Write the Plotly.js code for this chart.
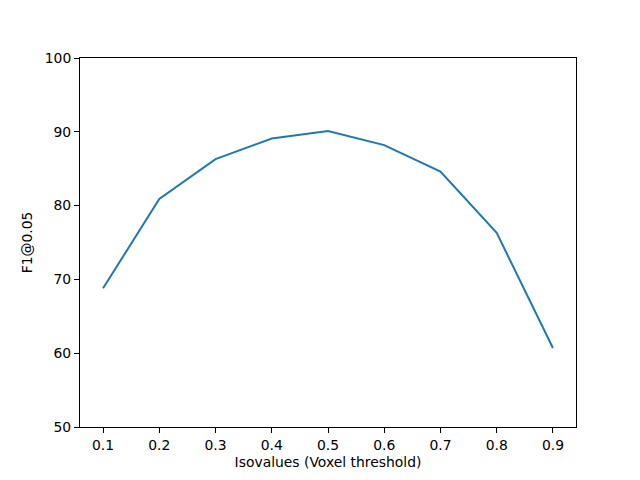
<!DOCTYPE html>
<html>
<head>
<meta charset="utf-8">
<script src="https://cdn.plot.ly/plotly-3.0.1.min.js"></script>
<style>
  html, body { margin: 0; padding: 0; background: #fff; }
  #myDiv { width: 640px; height: 480px; }
</style>
</head>
<body>
<div id="myDiv"></div>
<script>
// isovalue thresholds and the F1 score
var isovalues = [0.1, 0.2, 0.3, 0.4, 0.5, 0.6, 0.7, 0.8, 0.9];
var f1Scores = [68.8, 80.9, 86.3, 89.1, 90.1, 88.2, 84.6, 76.3, 60.7];

var xTicks = [0.1, 0.2, 0.3, 0.4, 0.5, 0.6, 0.7, 0.8, 0.9];
var xTickLabels = ["0.1", "0.2", "0.3", "0.4", "0.5", "0.6", "0.7", "0.8", "0.9"];
var yTicks = [50, 60, 70, 80, 90, 100];

var trace = {
  x: isovalues,
  y: f1Scores,
  type: "scatter",
  mode: "lines",
  line: { color: "#1f77b4", width: 2 }
};

var axisFont = { family: "DejaVu Sans", size: 13.9, color: "#000" };

var layout = {
  width: 640,
  height: 480,
  margin: { l: 80, r: 64, t: 58, b: 53 },
  paper_bgcolor: "#fff",
  plot_bgcolor: "#fff",
  showlegend: false,
  font: axisFont,
  xaxis: {
    range: [0.059, 0.941],
    tickvals: xTicks,
    ticktext: xTickLabels,
    ticks: "outside",
    ticklen: 5,
    tickwidth: 1,
    tickcolor: "#000",
    showgrid: false,
    zeroline: false,
    showline: true,
    linecolor: "#000",
    linewidth: 1,
    mirror: true,
    tickfont: axisFont,
    title: { text: "Isovalues (Voxel threshold)", font: axisFont, standoff: 5 }
  },
  yaxis: {
    range: [50, 100],
    tickvals: yTicks,
    ticks: "outside",
    ticklen: 5,
    tickwidth: 1,
    tickcolor: "#000",
    showgrid: false,
    zeroline: false,
    showline: true,
    linecolor: "#000",
    linewidth: 1,
    mirror: true,
    tickfont: axisFont,
    title: { text: "F1@0.05", font: axisFont, standoff: 8 }
  }
};

Plotly.newPlot("myDiv", [trace], layout, { displayModeBar: false, staticPlot: true });
</script>
</body>
</html>
